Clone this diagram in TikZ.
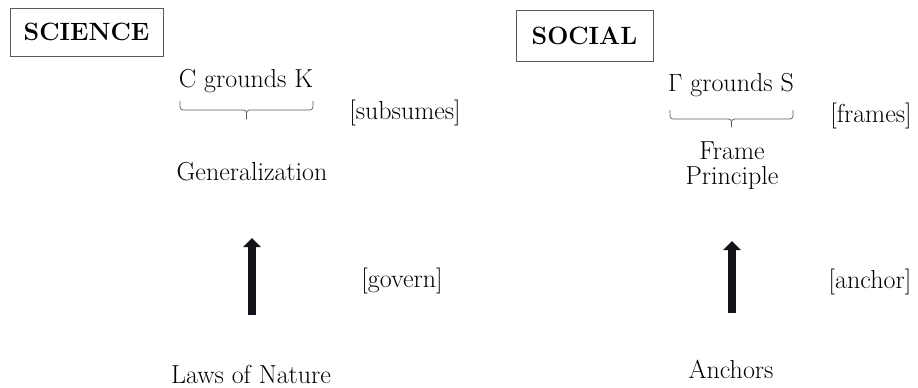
\documentclass[tikz,border=0pt]{standalone}
\usetikzlibrary{arrows.meta}
\definecolor{arrowink}{RGB}{18,20,26}
\definecolor{boxline}{RGB}{90,90,90}
\begin{document}
\begin{tikzpicture}[
        x=1pt, y=-1pt,
        every node/.style={inner sep=0pt, font=\fontsize{26}{25}\selectfont},
        titlebox/.style={draw=boxline, line width=0.8pt, font=\fontsize{25}{26}\selectfont\bfseries},
        label/.style={anchor=base},
        grbrace/.style={draw=boxline, line width=0.7pt, rounded corners=3pt},
        bigarrow/.style={draw=arrowink, line width=8pt, -{Triangle[width=17pt,length=9pt]}},
    ]
    \useasboundingbox (0,0) rectangle (918,388);
    % science side
    \node[titlebox, minimum width=153pt, minimum height=48pt](science) at (86.5,32){SCIENCE};
    \node[label](ck) at (246,87){C grounds K};
    \node[label](subsumes) at (405,119){[subsumes]};
    \node[label](gen) at (252,180){Generalization};
    \node[label](govern) at (402,287){[govern]};
    \node[label](laws) at (251,383){Laws of Nature};
    \coordinate (ckleft) at (180,101);
    \coordinate (ckright) at (313,101);
    \coordinate (ckmid) at (246.5,110);
    \coordinate (cktip) at (246.5,119);
    \draw[grbrace] (ckleft) |- (ckmid) -- (cktip);
    \draw[grbrace] (ckright) |- (ckmid) -- (cktip);
    \coordinate (lawsfoot) at (252,315);
    \coordinate (gentip) at (252,238);
    \draw[bigarrow] (lawsfoot) -- (gentip);
    % social side
    \node[titlebox, minimum width=137pt, minimum height=51pt](social) at (584.5,35.5){SOCIAL};
    \node[label](gs) at (731,91){$\Gamma$ grounds S};
    \node[label](frames) at (871,122){[frames]};
    \node[anchor=north, align=center](frame) at (732,142){Frame\\Principle};
    \node[label](anchor) at (870,288){[anchor]};
    \node[label](anchors) at (731,378){Anchors};
    \coordinate (gsleft) at (670,110);
    \coordinate (gsright) at (793,110);
    \coordinate (gsmid) at (731.5,119);
    \coordinate (gstip) at (731.5,127);
    \draw[grbrace] (gsleft) |- (gsmid) -- (gstip);
    \draw[grbrace] (gsright) |- (gsmid) -- (gstip);
    \coordinate (anchorsfoot) at (732,313);
    \coordinate (frametip) at (732,241);
    \draw[bigarrow] (anchorsfoot) -- (frametip);
\end{tikzpicture}
\end{document}
